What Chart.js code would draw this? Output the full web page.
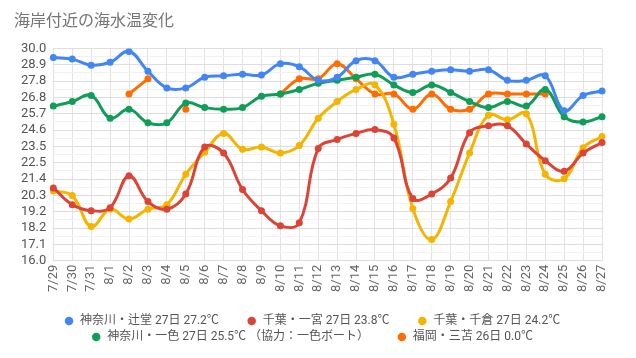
<!DOCTYPE html>
<html>
<head>
<meta charset="utf-8">
<script src="https://cdn.jsdelivr.net/npm/chart.js@4.4.0/dist/chart.umd.min.js"></script>
<style>
    html, body { margin: 0; padding: 0; background: #fff; }
    #wrap { width: 636px; height: 358px; }
</style>
</head>
<body>
<div id="wrap"><canvas id="seaTempChart" width="636" height="358"></canvas></div>
<script>
'use strict'

const dates = ['7/29', '7/30', '7/31', '8/1', '8/2', '8/3', '8/4', '8/5', '8/6', '8/7',
    '8/8', '8/9', '8/10', '8/11', '8/12', '8/13', '8/14', '8/15', '8/16', '8/17',
    '8/18', '8/19', '8/20', '8/21', '8/22', '8/23', '8/24', '8/25', '8/26', '8/27'];

// 神奈川・辻堂
const tsujido = [29.4, 29.3, 28.9, 29.1, 29.8, 28.5, 27.4, 27.4, 28.1, 28.2,
    28.3, 28.25, 29.0, 28.8, 27.9, 28.1, 29.2, 29.2, 28.1, 28.3,
    28.5, 28.6, 28.5, 28.6, 27.9, 27.9, 28.2, 25.9, 26.9, 27.2];

// 千葉・一宮
const ichinomiya = [20.8, 19.7, 19.3, 19.5, 21.6, 19.9, 19.4, 20.4, 23.5, 23.1,
    20.7, 19.3, 18.3, 18.5, 23.4, 24.0, 24.4, 24.65, 24.1, 20.1,
    20.4, 21.45, 24.45, 24.9, 24.9, 23.7, 22.6, 21.9, 23.1, 23.8];

// 千葉・千倉
const chikura = [20.6, 20.3, 18.25, 19.4, 18.75, 19.4, 19.7, 21.7, 23.15, 24.4,
    23.35, 23.5, 23.1, 23.6, 25.4, 26.5, 27.3, 27.6, 25.0, 19.45,
    17.4, 19.9, 23.1, 25.6, 25.3, 25.7, 21.7, 21.4, 23.45, 24.2];

// 神奈川・一色
const isshiki = [26.2, 26.5, 26.9, 25.4, 26.0, 25.1, 25.1, 26.4, 26.1, 26.0,
    26.1, 26.85, 27.0, 27.3, 27.7, 27.9, 28.1, 28.3, 27.6, 27.1,
    27.6, 27.1, 26.5, 26.1, 26.5, 26.2, 27.3, 25.5, 25.15, 25.5];

// 福岡・三苫 (null = 欠測)
const mitoma = [null, null, null, null, 27.0, 28.0, null, 26.0, null, null,
    null, null, 27.0, 28.0, 28.0, 29.0, 28.0, 27.0, 27.0, 26.0,
    27.0, 26.0, 26.0, 27.0, 27.0, 27.0, 27.0, null, null, null];

const seriesLabels = [
    '神奈川・辻堂 27日 27.2℃',
    '千葉・一宮 27日 23.8℃',
    '千葉・千倉 27日 24.2℃',
    '神奈川・一色 27日 25.5℃ （協力：一色ボート）',
    '福岡・三苫 26日 0.0℃'
];
const seriesColors = ['#4285F4', '#DB4437', '#F4B400', '#0F9D58', '#FF6D01'];

const yMin = 16.0;
const yMax = 30.0;

const FONT = "Roboto, 'Noto Sans CJK JP', sans-serif";

function makeDataset(i, data) {
    return {
        label: seriesLabels[i],
        data: data,
        borderColor: seriesColors[i],
        backgroundColor: seriesColors[i],
        borderWidth: 3,
        pointRadius: 3.5,
        pointBorderWidth: 0,
        tension: 0.4,
        fill: false
    };
}

// Nudge the legend so it sits where the original has it.
const moveLegend = {
    id: 'moveLegend',
    afterLayout(chart) {
        const legend = chart.legend;
        if (legend) {
            legend.left += 16;
            legend.right += 16;
            legend.top += 15;
            legend.bottom += 15;
        }
    }
};

const ctx = document.getElementById('seaTempChart').getContext('2d');
const seaTempChart = new Chart(ctx, {
    type: 'line',
    data: {
        labels: dates,
        datasets: [
            makeDataset(0, tsujido),
            makeDataset(1, ichinomiya),
            makeDataset(2, chikura),
            makeDataset(3, isshiki),
            makeDataset(4, mitoma)
        ]
    },
    plugins: [moveLegend],
    options: {
        responsive: false,
        animation: false,
        layout: {
            padding: { left: 14, right: 34, top: 0, bottom: 20 }
        },
        scales: {
            x: {
                grid: { color: '#e3e3e3', drawTicks: false },
                border: { display: false },
                ticks: {
                    color: '#666',
                    font: { family: FONT, size: 13 },
                    maxRotation: 90,
                    minRotation: 90,
                    autoSkip: false,
                    padding: 4
                }
            },
            y: {
                min: yMin,
                max: yMax,
                grid: {
                    drawTicks: false,
                    color: (c) => (c.index % 2 === 0 ? '#dedede' : '#f1f1f1')
                },
                border: { display: false },
                ticks: {
                    count: 27,
                    autoSkip: false,
                    color: '#555',
                    padding: 7,
                    font: { family: FONT, size: 13 },
                    callback: function(value, index) {
                        return index % 2 === 0 ? Number(value).toFixed(1) : '';
                    }
                }
            }
        },
        plugins: {
            title: {
                display: true,
                text: '海岸付近の海水温変化',
                align: 'start',
                color: '#757575',
                font: { family: FONT, size: 16, weight: 'normal' },
                padding: { top: 12.5, bottom: 16.8 }
            },
            legend: {
                position: 'bottom',
                labels: {
                    usePointStyle: true,
                    pointStyle: 'circle',
                    boxWidth: 10,
                    boxHeight: 6,
                    padding: 4,
                    color: '#555',
                    font: { family: FONT, size: 12 },
                    generateLabels: function(chart) {
                        const items = Chart.defaults.plugins.legend.labels.generateLabels(chart);
                        items.forEach((item) => {
                            item.lineWidth = 0;
                            // trailing spaces widen the gap between items, not between rows
                            item.text = item.text + '        ';
                        });
                        return items;
                    }
                }
            },
            tooltip: { enabled: false }
        }
    }
});
</script>
</body>
</html>
